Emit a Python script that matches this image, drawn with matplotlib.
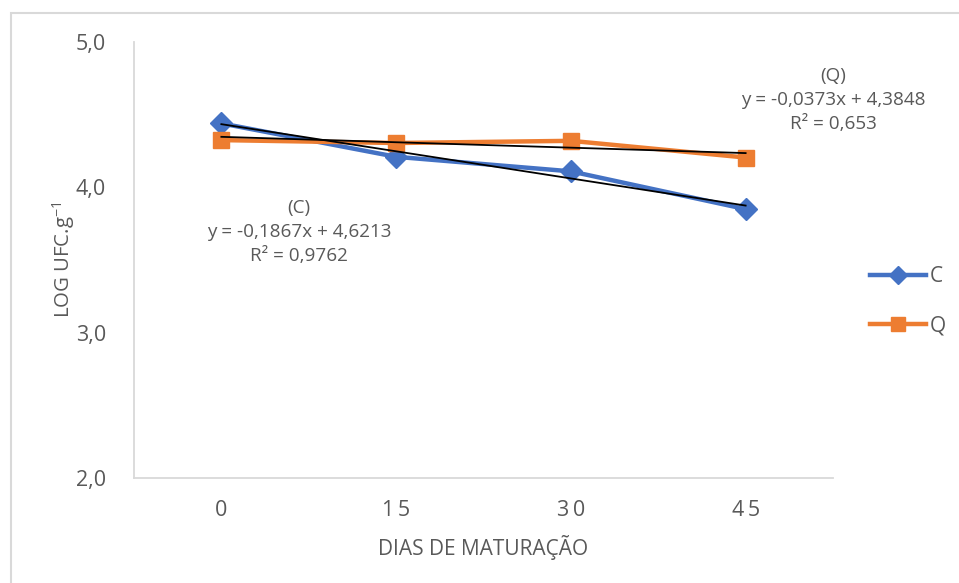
import matplotlib.pyplot as plt
from matplotlib.patches import Rectangle

plt.rcParams['font.family'] = ['Open Sans', 'DejaVu Sans']
plt.rcParams['mathtext.fontset'] = 'custom'
plt.rcParams['mathtext.rm'] = 'Open Sans'

# days of maturation and log counts per treatment
dias = ['0', '1\u20095', '3\u20090', '4\u20095']
c_vals = [4.44, 4.21, 4.11, 3.85]
q_vals = [4.325, 4.305, 4.32, 4.205]

# linear trendlines (x = category position 1..4)
c_fit = (-0.1867, 4.6213, 0.9762)
q_fit = (-0.0373, 4.3848, 0.653)

BLUE = '#4472C4'
ORANGE = '#ED7D31'
GRAY_TXT = '#595959'
GRAY_LN = '#D9D9D9'

fig = plt.figure(figsize=(9.59, 5.83), dpi=100)
ax = fig.add_axes([134/959, 1 - 478/583, (833 - 134)/959, (478 - 42)/583])

x = [1, 2, 3, 4]
ax.plot(x, c_vals, color=BLUE, lw=3.2, marker='D', ms=11, label='C', zorder=3)
ax.plot(x, q_vals, color=ORANGE, lw=3.2, marker='s', ms=12, label='Q', zorder=3)

for m, b, _ in (c_fit, q_fit):
    ax.plot([x[0], x[-1]], [m*x[0] + b, m*x[-1] + b], color='black', lw=1.3, zorder=4)

def fmt(v):
    return ('%g' % v).replace('.', ',')

ax.text(1.445, 3.693, '(C)\ny = %sx + %s\nR² = %s' % (fmt(c_fit[0]), fmt(c_fit[1]), fmt(c_fit[2])),
        ha='center', va='center', fontsize=13.6, color=GRAY_TXT, linespacing=1.42)
ax.text(4.5, 4.60, '(Q)\ny = %sx + %s\nR² = %s' % (fmt(q_fit[0]), fmt(q_fit[1]), fmt(q_fit[2])),
        ha='center', va='center', fontsize=13.6, color=GRAY_TXT, linespacing=1.42)

ax.set_xlim(0.5, 4.5)
ax.set_ylim(2, 5)
ax.set_xticks(x)
ax.set_xticklabels(dias)
ax.set_yticks([2, 3, 4, 5])
ax.set_yticklabels(['2,0', '3,0', '4,0', '5,0'])
ax.tick_params(length=0, labelsize=15.5, labelcolor=GRAY_TXT)
ax.tick_params(axis='y', pad=20)
ax.tick_params(axis='x', pad=16)
for s in ('top', 'right'):
    ax.spines[s].set_visible(False)
for s in ('left', 'bottom'):
    ax.spines[s].set_color(GRAY_LN)
    ax.spines[s].set_linewidth(1.3)

ax.set_ylabel('LOG UFC.g$^{\\mathregular{-1}}$', fontsize=14.7, color=GRAY_TXT, labelpad=-1)
ax.set_xlabel('DIAS DE MATURAÇÃO', fontsize=15, color=GRAY_TXT, labelpad=10)

ax.legend(loc='center left', bbox_to_anchor=(870/959, 1 - 301/583), bbox_transform=fig.transFigure,
          frameon=False, fontsize=15, borderaxespad=0, borderpad=0,
          handlelength=2.7, handletextpad=0.15, labelspacing=1.35, markerscale=0.85,
          labelcolor=GRAY_TXT)

fig.patches.append(Rectangle((11/959, -0.1), 2, (583 - 13)/583 + 0.1, transform=fig.transFigure,
                             fill=False, edgecolor=GRAY_LN, lw=1.5, clip_on=False))

fig.savefig('out.png', dpi=100)
